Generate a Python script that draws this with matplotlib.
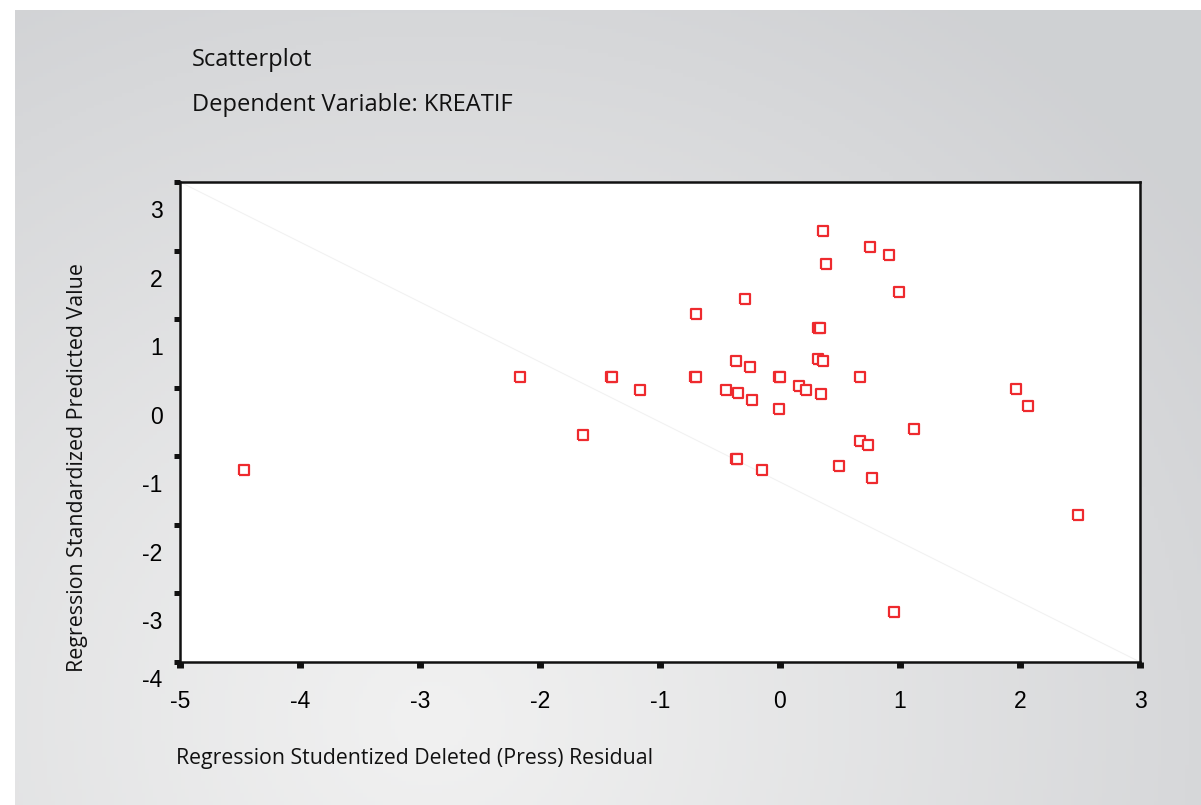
import numpy as np
import matplotlib
matplotlib.use('Agg')
import matplotlib.pyplot as plt
import matplotlib.transforms as mtransforms

# residuals (x) and predicted values (y)
resid = [0.36, 0.75, 0.91, 0.38, 0.99, -0.29, -0.70, 0.32, 0.33,
         -0.37, -0.25, 0.32, 0.36, -2.17, -1.41, -1.40, -0.71, -0.70,
         -0.01, 0.00, 0.67, -1.17, -0.45, -0.35, -0.23, 0.16, 0.22,
         0.34, -0.01, 1.97, 2.07, -1.64, 1.12, 0.67, 0.73, -0.37,
         -0.36, -0.15, 0.49, 0.77, -4.47, 2.48, 0.95]
pred = [2.29, 2.05, 1.93, 1.80, 1.39, 1.29, 1.08, 0.875, 0.875,
        0.39, 0.30, 0.42, 0.39, 0.16, 0.16, 0.16, 0.15, 0.15,
        0.15, 0.15, 0.15, -0.03, -0.03, -0.08, -0.18, 0.03, -0.03,
        -0.09, -0.31, -0.02, -0.27, -0.69, -0.60, -0.78, -0.84, -1.04,
        -1.04, -1.20, -1.14, -1.32, -1.20, -1.86, -3.27]

xticks = [-5, -4, -3, -2, -1, 0, 1, 2, 3]
yticks = [3, 2, 1, 0, -1, -2, -3, -4]

W, H = 1201, 805
fig = plt.figure(figsize=(W / 100, H / 100), dpi=100)
fig.patch.set_facecolor('white')

# gray gradient panel behind everything
bg = fig.add_axes([15 / W, 0, 1 - 15 / W, 1 - 10 / H])
gx, gy = np.meshgrid(np.linspace(15, W, 300), np.linspace(10, H, 200))
r = np.sqrt(((gx - 430) / 1.0) ** 2 + ((gy - 720) / 0.9) ** 2)
t = np.clip(r / 950, 0, 1) ** 1.1
light = np.array([0.945, 0.945, 0.945])
dark = np.array([0.815, 0.820, 0.830])
img = light[None, None, :] * (1 - t[..., None]) + dark[None, None, :] * t[..., None]
bg.imshow(img, aspect='auto', extent=[0, 1, 0, 1])
bg.axis('off')

ax = fig.add_axes([180 / W, 1 - 662 / H, 960 / W, 480 / H])
ax.set_facecolor('white')
ax.set_xlim(-5, 3)
ax.set_ylim(-4, 3)

# faint diagonal reference line
ax.plot([-5, 3], [3, -4], color='#f2f2f2', lw=0.8, zorder=1)

box = [(-1.2, -1), (1.2, -1), (1.2, 1), (-1.2, 1), (-1.2, -1)]
ax.scatter(resid, pred, marker=box, s=62, facecolors='white',
           edgecolors='#ee2a2e', linewidths=1.6, zorder=3, clip_on=False)

for sp in ax.spines.values():
    sp.set_linewidth(1.8)
    sp.set_color('#111111')

ax.set_xticks(xticks)
ax.set_yticks(yticks)
ax.set_xticklabels([str(v) for v in xticks])
ax.set_yticklabels([str(v) for v in yticks])
ax.tick_params(axis='x', direction='out', length=4, width=5, color='#111111',
               pad=16, labelsize=16.5)
ax.tick_params(axis='y', direction='out', length=4.5, width=3.6, color='#111111',
               pad=8, labelsize=16.5)
for lab in ax.get_xticklabels() + ax.get_yticklabels():
    lab.set_fontfamily('Liberation Sans')

# y labels in the original sit a bit below their tick marks
for lab, v in zip(ax.get_yticklabels(), yticks):
    dy = -0.16 if v == -4 else -0.27
    off = mtransforms.ScaledTranslation(0, dy, fig.dpi_scale_trans)
    lab.set_transform(lab.get_transform() + off)

fam = ['Open Sans', 'DejaVu Sans']
fig.text(192 / W, 1 - 60 / H, 'Scatterplot', fontsize=17, family=fam,
         ha='left', va='center', color='#111111')
fig.text(192 / W, 1 - 105 / H, 'Dependent Variable: KREATIF', fontsize=17,
         family=fam, ha='left', va='center', color='#111111')
fig.text(176 / W, 1 - 758 / H, 'Regression Studentized Deleted (Press) Residual',
         fontsize=15.3, family=fam, ha='left', va='center', color='#111111')
fig.text(78 / W, 1 - 468 / H, 'Regression Standardized Predicted Value',
         fontsize=15.4, family=fam, ha='center', va='center', rotation=90,
         color='#111111')

fig.savefig('out.png', dpi=100)
